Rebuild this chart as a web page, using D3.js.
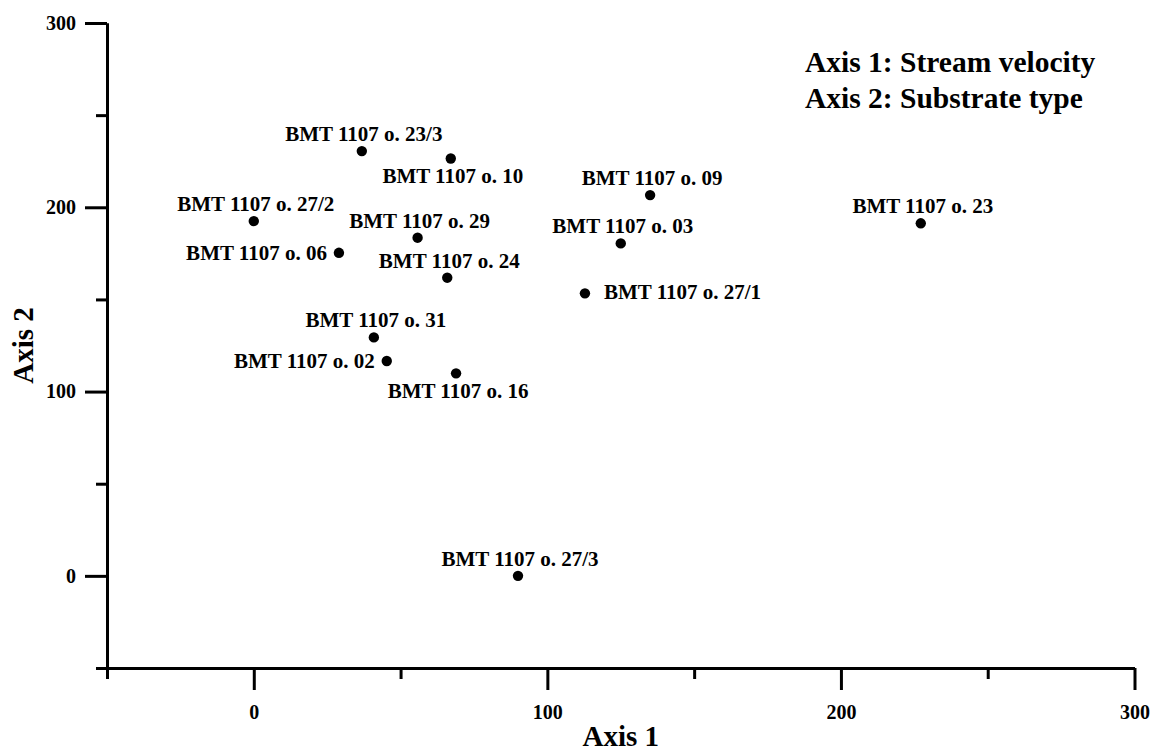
<!DOCTYPE html>
<html>
<head>
<meta charset="utf-8">
<script src="https://cdn.jsdelivr.net/npm/d3@7"></script>
<style>
	body { margin: 0; background: #fff; }
	svg { display: block; }
	text { font-family: "Liberation Serif", "Times New Roman", serif; font-weight: bold; fill: #000; }
</style>
</head>
<body>
<div id="chart"></div>
<script>

// Sampling sites (CA ordination scores):
var sites = ['BMT 1107 o. 23/3', 'BMT 1107 o. 10', 'BMT 1107 o. 27/2', 'BMT 1107 o. 29',
	'BMT 1107 o. 06', 'BMT 1107 o. 24', 'BMT 1107 o. 31', 'BMT 1107 o. 02',
	'BMT 1107 o. 16', 'BMT 1107 o. 09', 'BMT 1107 o. 03', 'BMT 1107 o. 27/1',
	'BMT 1107 o. 23', 'BMT 1107 o. 27/3'];
var axis1 = [36.8, 67.1, 0, 55.8, 29.0, 65.9, 40.9, 45.3, 68.9, 135.0, 125.0, 112.8, 227.2, 90];
var axis2 = [230.5, 226.5, 192.5, 183.5, 175.3, 161.8, 129.4, 116.6, 109.9, 206.6, 180.4, 153.3, 191.3, 0];

var majorTicks = [0, 100, 200, 300],
	minorTicks = [-50, 50, 150, 250];

var legendLines = ['Axis 1: Stream velocity', 'Axis 2: Substrate type'];

var width = 1151,
	height = 754;

// Which side of the dot each label sits on (default: above):
var side = {
	'BMT 1107 o. 10': 'below',
	'BMT 1107 o. 16': 'below',
	'BMT 1107 o. 06': 'left',
	'BMT 1107 o. 02': 'left',
	'BMT 1107 o. 27/1': 'right'
};

var svg = d3.select('#chart').append('svg')
	.attr('width', width)
	.attr('height', height);

var x = d3.scaleLinear().domain([-50, 300]).range([107, 1134.5]),
	y = d3.scaleLinear().domain([-50, 300]).range([668, 23]);

// Axes: long labelled ticks every 100, short unlabelled ones in between
function styleAxis(g) {
	g.selectAll('.domain, .tick line')
		.attr('stroke', '#000')
		.attr('stroke-width', 3);
	g.selectAll('.tick text')
		.style('font-size', '20px');
}

svg.append('g')
	.attr('transform', 'translate(0,' + y(-50) + ')')
	.call(d3.axisBottom(x).tickValues(minorTicks).tickSize(11).tickSizeOuter(0).tickFormat(''))
	.call(styleAxis);
svg.append('g')
	.attr('transform', 'translate(0,' + y(-50) + ')')
	.call(d3.axisBottom(x).tickValues(majorTicks).tickSize(22).tickSizeOuter(0).tickPadding(15))
	.call(styleAxis);

svg.append('g')
	.attr('transform', 'translate(' + x(-50) + ',0)')
	.call(d3.axisLeft(y).tickValues(minorTicks).tickSize(11).tickSizeOuter(0).tickFormat(''))
	.call(styleAxis);
svg.append('g')
	.attr('transform', 'translate(' + x(-50) + ',0)')
	.call(d3.axisLeft(y).tickValues(majorTicks).tickSize(22).tickSizeOuter(0).tickPadding(9))
	.call(styleAxis);

// Axis titles:
svg.append('text')
	.attr('x', (x(-50) + x(300)) / 2)
	.attr('y', 746)
	.attr('text-anchor', 'middle')
	.style('font-size', '29px')
	.text('Axis 1');

svg.append('text')
	.attr('transform', 'translate(33,' + (y(-50) + y(300)) / 2 + ') rotate(-90)')
	.attr('text-anchor', 'middle')
	.style('font-size', '29px')
	.text('Axis 2');

// Legend text, top right:
svg.append('g').selectAll('text')
	.data(legendLines)
	.join('text')
		.attr('x', 805)
		.attr('y', function(d, i) { return 72 + i * 36; })
		.style('font-size', '29.5px')
		.text(function(d) { return d; });

// Points and labels:
var pts = svg.append('g').selectAll('g')
	.data(sites)
	.join('g')
		.attr('transform', function(d, i) { return 'translate(' + x(axis1[i]) + ',' + y(axis2[i]) + ')'; });

pts.append('circle')
	.attr('r', 5.2)
	.attr('fill', '#000');

pts.append('text')
	.style('font-size', '21px')
	.attr('text-anchor', function(d) {
		var s = side[d];
		return s === 'left' ? 'end' : (s === 'right' ? 'start' : 'middle');
	})
	.attr('x', function(d) {
		var s = side[d];
		if (s === 'left') return -12;
		if (s === 'right') return 19;
		return 2;
	})
	.attr('y', function(d) {
		var s = side[d];
		if (s === 'below') return 25;
		if (s === 'left') return 7;
		if (s === 'right') return 6;
		return -10;
	})
	.text(function(d) { return d; });

</script>
</body>
</html>
